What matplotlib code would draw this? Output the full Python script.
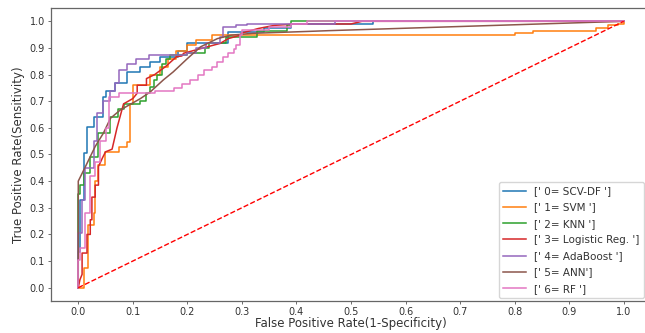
import matplotlib
matplotlib.use('Agg')
import matplotlib.pyplot as plt

names = ["[' 0= SCV-DF ']", "[' 1= SVM ']", "[' 2= KNN ']", "[' 3= Logistic Reg. ']",
         "[' 4= AdaBoost ']", "[' 5= ANN']", "[' 6= RF ']"]

# step curves: x = where the curve goes up, y = height it reaches
fpr_scv = [0, 0, 0.004, 0.010, 0.016, 0.028, 0.046, 0.050, 0.068, 0.090, 0.114, 0.132, 0.150,
           0.183, 0.200, 0.275, 0.34, 0.39, 0.54, 1.0]
tpr_scv = [0, 0.135, 0.33, 0.506, 0.603, 0.64, 0.715, 0.74, 0.77, 0.81, 0.83, 0.846, 0.865,
           0.89, 0.917, 0.96, 0.975, 0.99, 1.0, 1.0]

fpr_svm = [0, 0.010, 0.017, 0.029, 0.031, 0.037, 0.049, 0.074, 0.09, 0.095, 0.10, 0.132, 0.15,
           0.165, 0.18, 0.2, 0.215, 0.245, 0.8, 0.833, 0.95, 0.972, 0.99, 1.0]
tpr_svm = [0, 0.075, 0.236, 0.28, 0.40, 0.46, 0.51, 0.53, 0.548, 0.69, 0.76, 0.80, 0.83,
           0.86, 0.89, 0.91, 0.93, 0.947, 0.956, 0.964, 0.974, 0.985, 0.99, 1.0]

fpr_knn = [0, 0, 0.004, 0.010, 0.022, 0.037, 0.059, 0.073, 0.083, 0.114, 0.125, 0.132, 0.138,
           0.145, 0.153, 0.160, 0.168, 0.2, 0.233, 0.24, 0.27, 0.328, 0.383, 0.39, 1.0]
tpr_knn = [0, 0.35, 0.385, 0.43, 0.49, 0.58, 0.64, 0.67, 0.69, 0.70, 0.73, 0.754, 0.78,
           0.80, 0.84, 0.86, 0.873, 0.88, 0.90, 0.917, 0.94, 0.964, 0.985, 1.0, 1.0]

fpr_ada = [0, 0, 0.006, 0.012, 0.028, 0.034, 0.046, 0.059, 0.068, 0.074, 0.09, 0.105, 0.13,
           0.2, 0.215, 0.235, 0.26, 0.265, 0.29, 0.31, 0.47, 1.0]
tpr_ada = [0, 0.205, 0.33, 0.45, 0.55, 0.655, 0.70, 0.74, 0.77, 0.816, 0.84, 0.86, 0.873,
           0.88, 0.9, 0.917, 0.94, 0.98, 0.985, 0.99, 1.0, 1.0]

fpr_rf = [0, 0, 0.004, 0.012, 0.022, 0.031, 0.04, 0.05, 0.056, 0.074, 0.14, 0.175, 0.19, 0.205,
          0.22, 0.23, 0.245, 0.255, 0.265, 0.275, 0.285, 0.29, 0.297, 0.3, 0.35, 0.39, 0.42, 1.0]
tpr_rf = [0, 0.105, 0.15, 0.28, 0.42, 0.47, 0.55, 0.6, 0.716, 0.73, 0.74, 0.75, 0.765, 0.78,
          0.80, 0.816, 0.83, 0.847, 0.865, 0.88, 0.895, 0.91, 0.948, 0.966, 0.98, 0.99, 1.0, 1.0]

# plain polylines
fpr_lr = [0, 0.003, 0.007, 0.007, 0.016, 0.016, 0.022, 0.022, 0.025, 0.025, 0.031, 0.031, 0.037,
          0.037, 0.045, 0.05, 0.062, 0.071, 0.083, 0.1, 0.108, 0.108, 0.125, 0.125, 0.14, 0.16,
          0.18, 0.19, 0.193, 0.236, 0.26, 0.275, 0.297, 0.3, 0.33, 0.36, 0.40, 0.5, 0.52, 1.0]
tpr_lr = [0, 0.03, 0.05, 0.13, 0.13, 0.2, 0.2, 0.255, 0.255, 0.34, 0.34, 0.385, 0.385,
          0.455, 0.49, 0.51, 0.52, 0.6, 0.69, 0.71, 0.73, 0.76, 0.76, 0.785, 0.80, 0.83,
          0.867, 0.87, 0.88, 0.904, 0.917, 0.935, 0.948, 0.956, 0.973, 0.985, 0.99, 0.99, 1.0, 1.0]

fpr_ann = [0, 0, 0.013, 0.031, 0.046, 0.059, 0.077, 0.114, 0.132, 0.156, 0.174, 0.2, 0.224,
           0.255, 0.28, 0.32, 0.42, 0.46, 1.0]
tpr_ann = [0, 0.40, 0.454, 0.53, 0.58, 0.636, 0.667, 0.71, 0.735, 0.78, 0.81, 0.86, 0.904,
           0.935, 0.948, 0.955, 0.962, 0.965, 1.0]

plt.rcParams['text.color'] = '#333333'
plt.rcParams['xtick.color'] = '#555555'
plt.rcParams['ytick.color'] = '#555555'
plt.rcParams['xtick.labelcolor'] = '#333333'
plt.rcParams['ytick.labelcolor'] = '#333333'
plt.rcParams['axes.labelcolor'] = '#333333'

fig = plt.figure(figsize=(6.45, 3.33), dpi=100)
ax = fig.add_axes([51 / 645, 32 / 333, 600 / 645, 293 / 333])

lw = 1.1
ax.step(fpr_scv, tpr_scv, where='post', color='tab:blue', lw=lw, label=names[0])
ax.step(fpr_svm, tpr_svm, where='post', color='tab:orange', lw=lw, label=names[1])
ax.step(fpr_knn, tpr_knn, where='post', color='tab:green', lw=lw, label=names[2])
ax.plot(fpr_lr, tpr_lr, color='tab:red', lw=lw, label=names[3])
ax.step(fpr_ada, tpr_ada, where='post', color='tab:purple', lw=lw, label=names[4])
ax.plot(fpr_ann, tpr_ann, color='tab:brown', lw=lw, label=names[5])
ax.step(fpr_rf, tpr_rf, where='post', color='tab:pink', lw=lw, label=names[6])
ax.plot([0, 1], [0, 1], 'r--', lw=1.0)

ax.set_xticks([i / 10 for i in range(11)])
ax.set_yticks([i / 10 for i in range(11)])
ax.tick_params(labelsize=7, length=2.5, width=0.6, pad=2)
for s in ax.spines.values():
    s.set_color('#666666')
    s.set_linewidth(0.9)
ax.set_xlabel('False Positive Rate(1-Specificity)', fontsize=8.5, labelpad=0)
ax.set_ylabel('True Positive Rate(Sensitivity)', fontsize=8.5, labelpad=3)
leg = ax.legend(loc='lower right', bbox_to_anchor=(596 / 600, 0.0), fontsize=7.5,
                handlelength=2.2, labelspacing=0.6, borderaxespad=0.3, fancybox=True)

fig.savefig('out.png', dpi=100)
